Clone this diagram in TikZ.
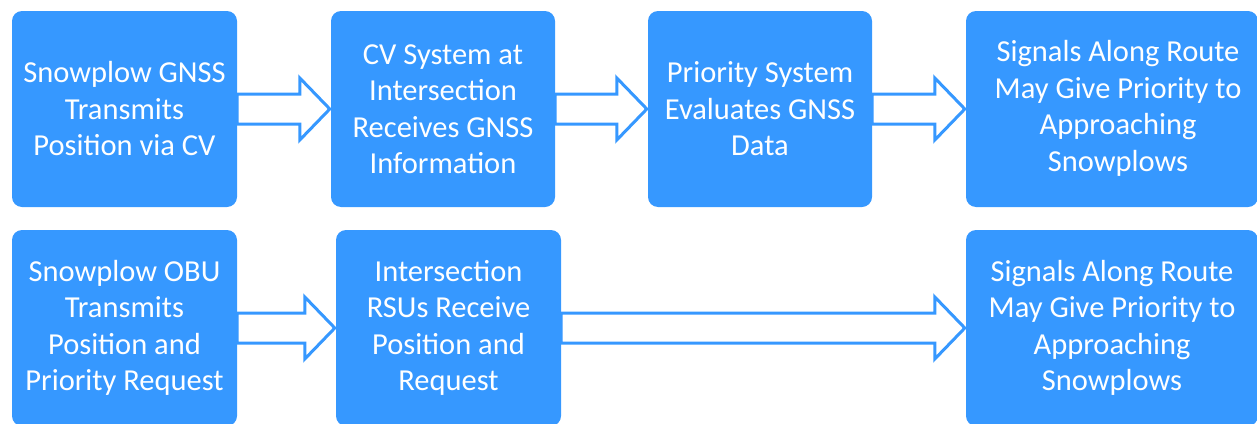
\documentclass[tikz,border=0pt]{standalone}
\usepackage{fontspec}
\setmainfont{Carlito}
\usetikzlibrary{calc}
\definecolor{plowblue}{RGB}{54,152,255}
\tikzset{
  stepbox/.style={rectangle, rounded corners=10pt, fill=plowblue, text=white,
    inner sep=0pt, minimum height=196pt, align=center,
    font=\fontsize{30.5}{36.5}\selectfont},
  flowarrow/.style={draw=plowblue, fill=white, line width=3pt, line join=miter}
}
% hollow block arrow from the east side of #1 to the west side of #2
\newcommand\blockarrow[2]{%
  \path[flowarrow] let \p1=(#1.east), \p2=(#2.west) in
    (\x1,\y1+15pt) -- (\x2-31pt,\y1+15pt) -- (\x2-31pt,\y1+31pt) -- (\x2-1pt,\y1)
    -- (\x2-31pt,\y1-31pt) -- (\x2-31pt,\y1-15pt) -- (\x1,\y1-15pt) -- cycle;}
\begin{document}
\begin{tikzpicture}[x=1pt, y=-1pt]
  \useasboundingbox (0,0) rectangle (1257,423);
  \clip (0,0) rectangle (1257,423);
  % GNSS path
  \node[stepbox, minimum width=225pt] (g1) at (124.5,109)
    {Snowplow GNSS\\Transmits\\Position via CV};
  \node[stepbox, minimum width=224pt] (g2) at (443,109)
    {CV System at\\Intersection\\Receives GNSS\\Information};
  \node[stepbox, minimum width=224pt] (g3) at (760,109)
    {Priority System\\Evaluates GNSS\\Data};
  \node[stepbox, minimum width=292pt] (g4) at (1112,109)
    {\hspace*{12pt}\begin{tabular}{@{}c@{}}Signals Along Route\\May Give Priority to\\Approaching\\Snowplows\end{tabular}};
  % OBU path
  \node[stepbox, minimum width=225pt] (o1) at (124.5,328)
    {Snowplow OBU\\Transmits\\Position and\\Priority Request};
  \node[stepbox, minimum width=225pt] (o2) at (448.5,328)
    {Intersection\\RSUs Receive\\Position and\\Request};
  \node[stepbox, minimum width=292pt] (o3) at (1112,328)
    {Signals Along Route\\May Give Priority to\\Approaching\\Snowplows};
  % connectors
  \blockarrow{g1}{g2}
  \blockarrow{g2}{g3}
  \blockarrow{g3}{g4}
  \blockarrow{o1}{o2}
  \blockarrow{o2}{o3}
\end{tikzpicture}
\end{document}
